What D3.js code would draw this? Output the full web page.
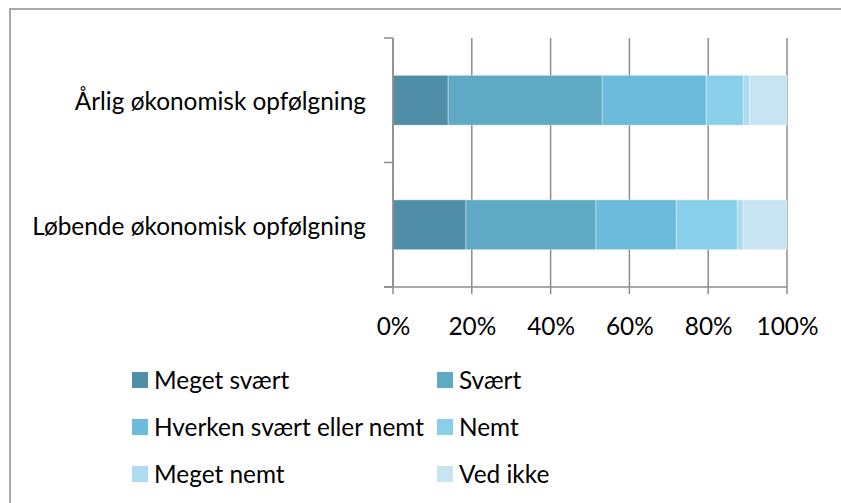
<!DOCTYPE html>
<html>
<head>
<meta charset="utf-8">
<script src="https://cdn.jsdelivr.net/npm/d3@7"></script>
<style>
  body { margin: 0; background: #fff; }
  text { font-family: Lato, "Open Sans", sans-serif; fill: #000; }
</style>
</head>
<body>
<div id="chart"></div>
<script>
// Data
const categories = ['Årlig økonomisk opfølgning', 'Løbende økonomisk opfølgning'];
const seriesNames = ['Meget svært', 'Svært', 'Hverken svært eller nemt', 'Nemt', 'Meget nemt', 'Ved ikke'];
const aarlig = [14.0, 39.1, 26.4, 9.4, 1.6, 9.5];
const loebende = [18.5, 33.0, 20.4, 15.5, 1.5, 11.1];
const tickValues = [0, 20, 40, 60, 80, 100];
const colors = ['#4f8ea6', '#60a9c5', '#6cbbda', '#8acfea', '#addbf0', '#c8e4f2'];

const width = 841, height = 503;
const plot = { left: 393, right: 787, top: 38, bottom: 287 };
const fontSize = '24.4px';

const svg = d3.select('#chart').append('svg')
    .attr('width', width)
    .attr('height', height);

// outer frame (cut off at right and bottom)
svg.append('rect')
    .attr('x', 10).attr('y', 9)
    .attr('width', 900).attr('height', 600)
    .attr('fill', 'none')
    .attr('stroke', '#8c8c8c')
    .attr('stroke-width', 1.5);

const x = d3.scaleLinear().domain([0, 100]).range([plot.left, plot.right]);
const y = d3.scaleBand().domain(categories).range([plot.top, plot.bottom])
    .paddingInner(0.6).paddingOuter(0.3);
const yb = d3.scaleBand().domain(categories).range([plot.top, plot.bottom]);

const rows = [aarlig, loebende].map((vals, i) => {
    let acc = 0;
    return vals.map((v, j) => {
        const seg = { cat: categories[i], name: seriesNames[j], x0: acc, x1: acc + v };
        acc += v;
        return seg;
    });
});

// gridlines + ticks below axis
svg.append('g')
    .selectAll('line')
    .data(tickValues)
    .join('line')
    .attr('x1', d => x(d)).attr('x2', d => x(d))
    .attr('y1', plot.top).attr('y2', plot.bottom + 7)
    .attr('stroke', '#8c8c8c')
    .attr('stroke-width', 1.5);

// bars
svg.append('g')
    .selectAll('g')
    .data(rows)
    .join('g')
    .selectAll('rect')
    .data(d => d)
    .join('rect')
    .attr('x', d => x(d.x0))
    .attr('y', d => y(d.cat))
    .attr('width', d => x(d.x1) - x(d.x0))
    .attr('height', y.bandwidth())
    .attr('fill', (d, i) => colors[i])
    .attr('stroke', 'rgba(255,255,255,0.35)')
    .attr('stroke-width', 1);

// value axis
const xAxis = svg.append('g')
    .attr('transform', `translate(0,${plot.bottom})`)
    .call(d3.axisBottom(x).tickValues(tickValues).tickFormat(d => d + '%').tickSize(0).tickPadding(31));
xAxis.select('.domain').remove();
xAxis.selectAll('text').style('font-size', fontSize).attr('font-family', null);

svg.append('line')
    .attr('x1', plot.left - 9).attr('x2', plot.right)
    .attr('y1', plot.bottom).attr('y2', plot.bottom)
    .attr('stroke', '#8c8c8c').attr('stroke-width', 1.5);

// category axis
const yAxis = svg.append('g')
    .attr('transform', `translate(${plot.left},2)`)
    .call(d3.axisLeft(yb).tickSize(0).tickPadding(27));
yAxis.select('.domain').remove();
yAxis.selectAll('text').style('font-size', fontSize).attr('font-family', null);

svg.append('line')
    .attr('x1', plot.left).attr('x2', plot.left)
    .attr('y1', plot.top).attr('y2', plot.bottom)
    .attr('stroke', '#8c8c8c').attr('stroke-width', 1.5);

svg.append('g')
    .selectAll('line')
    .data([plot.top, plot.top + yb.step(), plot.bottom])
    .join('line')
    .attr('x1', plot.left - 9).attr('x2', plot.left)
    .attr('y1', d => d).attr('y2', d => d)
    .attr('stroke', '#8c8c8c').attr('stroke-width', 1.5);

// legend
const legend = svg.append('g');
const items = legend.selectAll('g')
    .data(seriesNames)
    .join('g')
    .attr('transform', (d, i) => `translate(${i % 2 === 0 ? 132 : 437},${372 + Math.floor(i / 2) * 47})`);

items.append('rect')
    .attr('width', 16).attr('height', 16)
    .attr('fill', (d, i) => colors[i]);

items.append('text')
    .attr('x', 22).attr('y', 8)
    .attr('dy', '0.35em')
    .style('font-size', fontSize)
    .text(d => d);
</script>
</body>
</html>
